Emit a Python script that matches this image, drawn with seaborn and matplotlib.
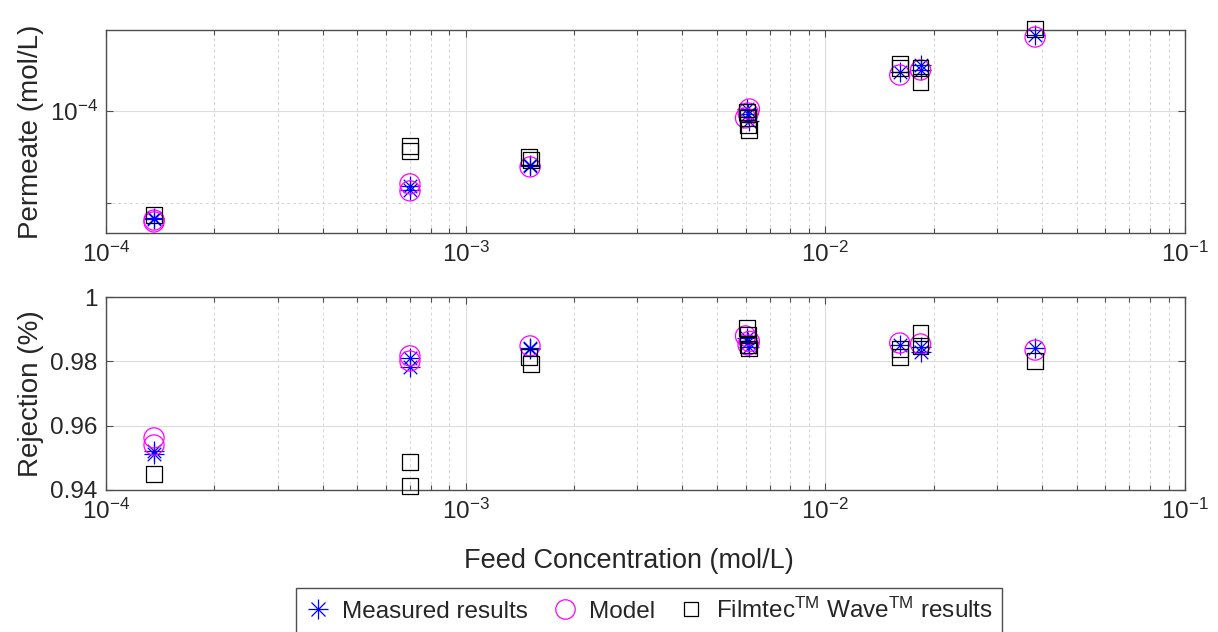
import numpy as np
import pandas as pd
import seaborn as sns
import matplotlib.pyplot as plt
from matplotlib.lines import Line2D
from matplotlib.legend_handler import HandlerTuple
from matplotlib.ticker import FixedLocator, NullFormatter, LogLocator

# measured results
meas_feed = [1.36e-4, 1.36e-4, 7.0e-4, 7.0e-4, 1.51e-3, 1.51e-3, 6.05e-3, 6.1e-3,
             6.15e-3, 0.0161, 0.0184, 0.0184, 0.0383]
meas_perm = [6.7e-6, 6.8e-6, 1.53e-5, 1.38e-5, 2.59e-5, 2.52e-5, 1.05e-4, 9.3e-5,
             7.8e-5, 2.65e-4, 3.16e-4, 2.79e-4, 6.7e-4]
meas_rej = [0.9512, 0.9521, 0.9810, 0.9782, 0.9838, 0.9842, 0.9872, 0.9860,
            0.9845, 0.9851, 0.9845, 0.9829, 0.9841]

# model
model_feed = [1.36e-4, 1.36e-4, 7.0e-4, 7.0e-4, 1.51e-3, 6.0e-3, 6.1e-3, 6.15e-3,
              0.0161, 0.0184, 0.0383]
model_perm = [6.2e-6, 6.5e-6, 1.61e-5, 1.35e-5, 2.46e-5, 8.4e-5, 9.5e-5, 1.05e-4,
              2.46e-4, 2.79e-4, 6.37e-4]
model_rej = [0.9562, 0.9540, 0.9817, 0.9801, 0.9848, 0.9879, 0.9851, 0.9862,
             0.9857, 0.9854, 0.9835]

# Filmtec Wave results
wave_feed = [1.36e-4, 7.0e-4, 7.0e-4, 1.50e-3, 1.52e-3, 6.05e-3, 6.1e-3, 6.1e-3,
             6.15e-3, 0.0161, 0.0161, 0.0184, 0.0184, 0.0383]
wave_perm = [7.4e-6, 4.17e-5, 3.67e-5, 3.16e-5, 2.93e-5, 9.8e-5, 8.4e-5, 7.05e-5,
             6.2e-5, 3.24e-4, 2.93e-4, 2.93e-4, 2.07e-4, 7.8e-4]
wave_rej = [0.9450, 0.9487, 0.9412, 0.9813, 0.9792, 0.9904, 0.9882, 0.9851,
            0.9840, 0.9838, 0.9813, 0.9888, 0.9848, 0.9801]

df_meas = pd.DataFrame({"feed": meas_feed, "perm": meas_perm, "rej": meas_rej})
df_model = pd.DataFrame({"feed": model_feed, "perm": model_perm, "rej": model_rej})
df_wave = pd.DataFrame({"feed": wave_feed, "perm": wave_perm, "rej": wave_rej})

sns.set_style("ticks")
plt.rcParams["font.family"] = ["Liberation Sans", "DejaVu Sans"]
plt.rcParams["mathtext.fontset"] = "custom"
plt.rcParams["mathtext.rm"] = "Liberation Sans"
plt.rcParams["mathtext.it"] = "Liberation Sans:italic"

fig = plt.figure(figsize=(12.18, 6.32), dpi=100)
ax1 = fig.add_axes([106 / 1218, 1 - 233 / 632, 1079 / 1218, 203 / 632])
ax2 = fig.add_axes([106 / 1218, 1 - 490 / 632, 1079 / 1218, 193 / 632])

blue = "#0000ff"
mag = "#ff00ff"
axcol = "#4d4d4d"


def draw(ax, ycol):
    # MATLAB style asterisk = plus + cross
    sns.scatterplot(data=df_meas, x="feed", y=ycol, ax=ax, marker="+", s=190,
                    color=blue, linewidth=0.9, clip_on=False, zorder=3)
    sns.scatterplot(data=df_meas, x="feed", y=ycol, ax=ax, marker="x", s=95,
                    color=blue, linewidth=0.9, clip_on=False, zorder=3)
    sns.scatterplot(data=df_model, x="feed", y=ycol, ax=ax, marker="o", s=210,
                    facecolor="none", edgecolor=mag, linewidth=0.9,
                    clip_on=False, zorder=3)
    sns.scatterplot(data=df_wave, x="feed", y=ycol, ax=ax, marker="s", s=130,
                    facecolor="none", edgecolor="black", linewidth=0.9,
                    clip_on=False, zorder=3)
    ax.set_xscale("log")
    ax.set_xlim(1e-4, 1e-1)
    ax.xaxis.set_major_locator(FixedLocator([1e-4, 1e-3, 1e-2, 1e-1]))
    ax.xaxis.set_minor_locator(LogLocator(base=10, subs=np.arange(2, 10)))
    ax.xaxis.set_minor_formatter(NullFormatter())
    ax.set_xticklabels(["$10^{-4}$", "$10^{-3}$", "$10^{-2}$", "$10^{-1}$"])
    ax.grid(which="major", color="#dcdcdc", linestyle="-", linewidth=0.8)
    ax.grid(which="minor", color="#d4d4d4", linestyle=(0, (3, 3)), linewidth=0.7)
    ax.set_axisbelow(True)
    ax.tick_params(which="both", direction="in", top=True, right=True,
                   color=axcol, labelsize=17.5, labelcolor="#262626", width=0.8)
    ax.tick_params(which="major", length=5, pad=6)
    ax.tick_params(which="minor", length=3.5)
    for sp in ax.spines.values():
        sp.set_color(axcol)
        sp.set_linewidth(1.0)
    ax.set_xlabel("")


draw(ax1, "perm")
ax1.set_yscale("log")
ax1.set_ylim(4.7e-6, 7.6e-4)
ax1.yaxis.set_major_locator(FixedLocator([1e-4]))
ax1.set_yticklabels(["$10^{-4}$"])
ax1.yaxis.set_minor_locator(FixedLocator([1e-5]))
ax1.yaxis.set_minor_formatter(NullFormatter())
ax1.set_ylabel("Permeate (mol/L)", fontsize=20, color="#262626")
ax1.yaxis.set_label_coords(-0.057, 0.5)

draw(ax2, "rej")
ax2.set_ylim(0.94, 1.0)
ax2.set_yticks([0.94, 0.96, 0.98, 1.0])
ax2.set_yticklabels(["0.94", "0.96", "0.98", "1"])
ax2.yaxis.set_minor_locator(FixedLocator([]))
ax2.set_ylabel("Rejection (%)", fontsize=20, color="#262626")
ax2.yaxis.set_label_coords(-0.057, 0.5)
ax2.set_xlabel("Feed Concentration (mol/L)", fontsize=19.5, color="#262626")
ax2.xaxis.set_label_coords(0.485, -0.30)

h_star = (Line2D([], [], marker="+", ls="none", color=blue, markersize=14, mew=0.9),
          Line2D([], [], marker="x", ls="none", color=blue, markersize=10, mew=0.9))
h_circ = Line2D([], [], marker="o", ls="none", mfc="none", mec=mag, markersize=14, mew=0.9)
h_sq = Line2D([], [], marker="s", ls="none", mfc="none", mec="black", markersize=9.5, mew=0.9)

leg = fig.legend([h_star, h_circ, h_sq],
                 ["Measured results", "Model",
                  "Filmtec$^{\\mathrm{TM}}$ Wave$^{\\mathrm{TM}}$ results"],
                 handler_map={tuple: HandlerTuple(ndivide=1, pad=0)},
                 loc="upper center", bbox_to_anchor=(0.533, 1 - 588 / 632),
                 borderaxespad=0, ncol=3, fontsize=17.5, frameon=True,
                 fancybox=False, edgecolor="#4d4d4d", framealpha=1,
                 handlelength=1.0, handletextpad=0.5, columnspacing=1.0,
                 borderpad=0.4)
leg.get_frame().set_linewidth(1.0)

fig.savefig("out.png", dpi=100)
